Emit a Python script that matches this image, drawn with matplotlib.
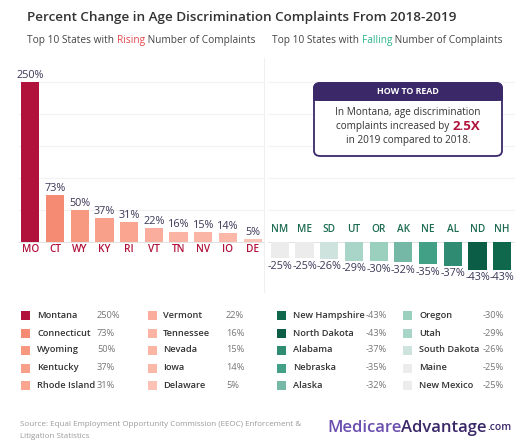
import matplotlib
matplotlib.use("Agg")
import matplotlib.pyplot as plt
from matplotlib.patches import FancyBboxPatch, Rectangle

plt.rcParams['font.family'] = ['Open Sans', 'DejaVu Sans']

# data
rise_codes = ['MO', 'CT', 'WY', 'KY', 'RI', 'VT', 'TN', 'NV', 'IO', 'DE']
rise_names = ['Montana', 'Connecticut', 'Wyoming', 'Kentucky', 'Rhode Island',
              'Vermont', 'Tennessee', 'Nevada', 'Iowa', 'Delaware']
rise_vals = [250, 73, 50, 37, 31, 22, 16, 15, 14, 5]
rise_colors = ['#b0123b', '#f58b72', '#f79880', '#f8a08a', '#f9a58f',
               '#faad9c', '#fbb3a3', '#fbb5a5', '#fbb7a8', '#fcc2b5']

fall_codes = ['NM', 'ME', 'SD', 'UT', 'OR', 'AK', 'NE', 'AL', 'ND', 'NH']
fall_names = ['New Mexico', 'Maine', 'South Dakota', 'Utah', 'Oregon',
              'Alaska', 'Nebraska', 'Alabama', 'North Dakota', 'New Hampshire']
fall_vals = [-25, -25, -26, -29, -30, -32, -35, -37, -43, -43]
fall_colors = ['#ececec', '#ececec', '#cfe3de', '#a8d5c7', '#9bcfbe',
               '#74b8a5', '#42a086', '#2f8b71', '#0b5d45', '#0f684c']

W, H = 531, 442
fig = plt.figure(figsize=(W / 100, H / 100), dpi=100)
fig.patch.set_facecolor('white')


def fx(x):
    return x / W


def fy(y):
    return 1 - y / H


dark = '#3a3857'
crimson = '#b0123b'
green_lbl = '#1d6b52'

# axes geometry: baseline at y=242px, 0.64 px per percent
ppp = 0.64
ymin, ymax = -52, 272
top_px = 242 - ymax * ppp
bot_px = 242 - ymin * ppp


def make_ax(x0, x1):
    ax = fig.add_axes([fx(x0), fy(bot_px), (x1 - x0) / W, (bot_px - top_px) / H])
    ax.set_xlim(-0.5, 9.5)
    ax.set_ylim(ymin, ymax)
    for s in ax.spines.values():
        s.set_visible(False)
    ax.set_xticks([])
    ax.set_yticks([])
    for g in [50, 100, 150, 200, 250]:
        ax.axhline(g, color='#f2f2f2', lw=0.8, zorder=0)
    ax.patch.set_alpha(0)
    return ax


axL = make_ax(18, 265)
axR = make_ax(267.5, 514.5)

xs = range(10)
axL.bar(xs, rise_vals, width=0.74, color=rise_colors, zorder=2)
axL.axhline(0, color='#dddddd', lw=0.6, zorder=1)
for i, v in enumerate(rise_vals):
    axL.text(i, v + 2, f'{v}%', ha='center', va='bottom', fontsize=7.8, color=dark)
    axL.text(i, -11, rise_codes[i], ha='center', va='center', fontsize=7.2,
             color=crimson, fontweight='semibold')

axR.bar(xs, fall_vals, width=0.74, color=fall_colors, zorder=2)
axR.axhline(0, color='#dddddd', lw=0.6, zorder=1)
for i, v in enumerate(fall_vals):
    axR.text(i, v - 4, f'{v}%', ha='center', va='top', fontsize=7.8, color=dark)
    axR.text(i, 19, fall_codes[i], ha='center', va='center', fontsize=7.2,
             color=green_lbl, fontweight='semibold')

# divider
fig.add_artist(plt.Line2D([fx(264), fx(264)], [fy(58), fy(292)],
                          color='#f0f0f0', lw=0.8))

# title
fig.text(fx(27), fy(17), 'Percent Change in Age Discrimination Complaints From 2018-2019',
         fontsize=9.7, color='#333333', fontweight='semibold', va='center')

renderer = fig.canvas.get_renderer()


def pieces(x, y, parts, ha='left', **kw):
    # draw a line of differently coloured text pieces
    arts = []
    widths = []
    for txt, col, extra in parts:
        a = fig.text(0, fy(y), txt, color=col, va='center', **kw, **extra)
        bb = a.get_window_extent(renderer)
        arts.append(a)
        widths.append(bb.width)
    total = sum(widths)
    cur = x - total / 2 if ha == 'center' else x
    for a, w in zip(arts, widths):
        a.set_x(fx(cur))
        cur += w


pieces(27, 40, [('Top 10 States with ', '#444444', {}), ('Rising', '#e0474c', {}),
                (' Number of Complaints', '#444444', {})], fontsize=7.3)
pieces(272, 40, [('Top 10 States with ', '#444444', {}), ('Falling', '#2bb38a', {}),
                 (' Number of Complaints', '#444444', {})], fontsize=7.3)

# how to read box
purple = '#3b2869'
box = FancyBboxPatch((fx(314), fy(156)), fx(502) - fx(314), fy(83) - fy(156),
                     boxstyle='round,pad=0,rounding_size=0.012', transform=fig.transFigure,
                     facecolor='white', edgecolor=purple, lw=1.3)
fig.add_artist(box)
head = FancyBboxPatch((fx(314), fy(100)), fx(502) - fx(314), fy(83) - fy(100),
                      boxstyle='round,pad=0,rounding_size=0.012', transform=fig.transFigure,
                      facecolor=purple, edgecolor=purple, lw=1.3)
fig.add_artist(head)
fig.add_artist(Rectangle((fx(314), fy(100)), fx(502) - fx(314), fy(92) - fy(100),
                         transform=fig.transFigure, facecolor=purple, edgecolor=purple, lw=1.3))
fig.text(fx(408), fy(91.5), 'HOW TO READ', color='white', fontsize=6.4, fontweight='bold',
         ha='center', va='center')
fig.text(fx(408), fy(113), 'In Montana, age discrimination', color='#333333', fontsize=7.2,
         ha='center', va='center')
pieces(408, 127, [('complaints increased by ', '#333333', {'fontsize': 7.2}),
                  ('2.5X', crimson, {'fontsize': 9.5, 'fontweight': 'bold'})], ha='center')
fig.text(fx(408), fy(141), 'in 2019 compared to 2018.', color='#333333', fontsize=7.2,
         ha='center', va='center')

# legends
rows = [315, 333, 350, 368, 385]


def legend(names, vals, colors, cols):
    for i in range(10):
        c = i // 5
        r = i % 5
        sx, nx, vx = cols[c]
        y = rows[r]
        fig.add_artist(Rectangle((fx(sx), fy(y + 4.5)), 9 / W, 9 / H, transform=fig.transFigure,
                                 facecolor=colors[i], edgecolor='none'))
        fig.text(fx(nx), fy(y), names[i], fontsize=6.7, color='#333333',
                 fontweight='semibold', va='center')
        fig.text(fx(vx), fy(y), f'{vals[i]}%', fontsize=6.7, color='#777777', va='center')


legend(rise_names, rise_vals, rise_colors, [(21, 37, 97), (148, 163, 226)])
order = list(range(9, -1, -1))
legend([fall_names[i] for i in order], [fall_vals[i] for i in order],
       [fall_colors[i] for i in order], [(277, 293, 366), (403, 419, 483)])

# footer
fig.text(fx(20), fy(424), 'Source: Equal Employment Opportunity Commission (EEOC) Enforcement &',
         fontsize=5.8, color='#9a9a9a', va='center')
fig.text(fx(20), fy(436), 'Litigation Statistics', fontsize=5.8, color='#9a9a9a', va='center')
pieces(327, 428, [('Medicare', '#6b4fae', {'fontsize': 12}),
                  ('Advantage', '#3b2869', {'fontsize': 12}),
                  ('.com', '#3b2869', {'fontsize': 7.5})], fontweight='semibold')

fig.savefig('out.png', dpi=100, facecolor='white')
